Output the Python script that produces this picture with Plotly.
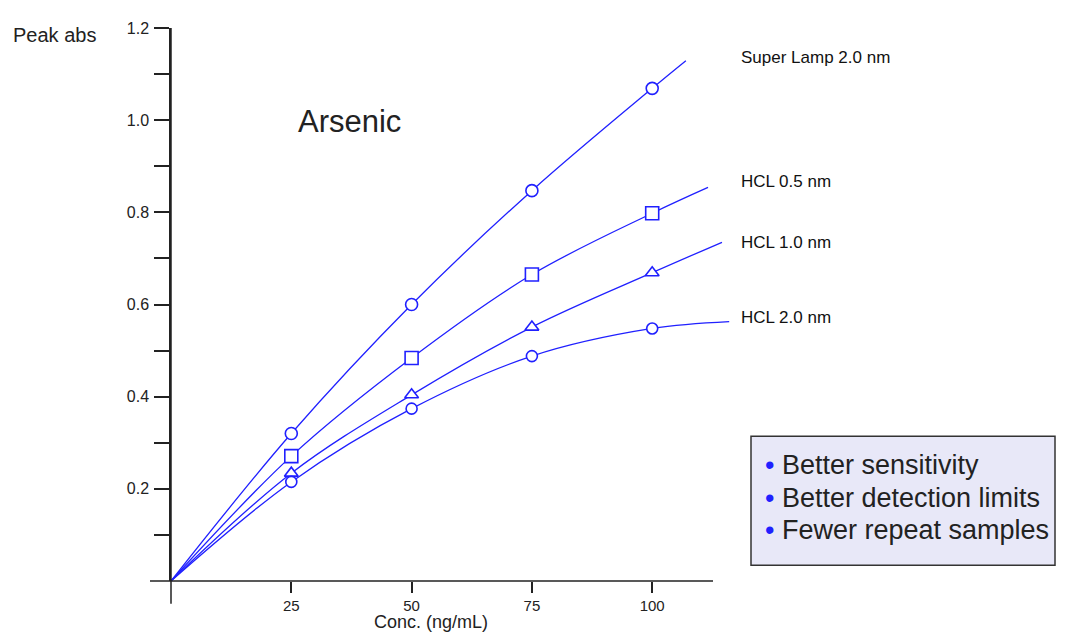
import plotly.graph_objects as go

# ---- data ----
conc = [25, 50, 75, 100]
series_names = ["Super Lamp 2.0 nm", "HCL 0.5 nm", "HCL 1.0 nm", "HCL 2.0 nm"]
super_lamp = [0.320, 0.600, 0.847, 1.069]
hcl_05 = [0.271, 0.484, 0.665, 0.798]
hcl_10 = [0.234, 0.404, 0.551, 0.669]
hcl_20 = [0.215, 0.374, 0.488, 0.548]
# end of each fitted curve (x, y)
curve_end_x = [107.0, 111.6, 114.5, 116.0]
curve_end_y = [1.129, 0.854, 0.735, 0.563]
symbols = ["circle", "square", "triangle-up", "circle"]
marker_sizes = [12, 13, 12, 11]
label_y = [1.137, 0.866, 0.735, 0.572]
bullets = ["Better sensitivity", "Better detection limits", "Fewer repeat samples"]
y_major = [0.2, 0.4, 0.6, 0.8, 1.0, 1.2]
y_minor = [0.1, 0.3, 0.5, 0.7, 0.9, 1.1]

OFF = 8  # page body margin
W, H = 1066 - OFF, 632 - OFF
L, R, T, B = 171 - OFF, 332, 23 - OFF, 51
X_RANGE = [0, 117]
Y_RANGE = [0, 1.2]
pw, ph = W - L - R, H - T - B


def px(x):
    return (x - OFF - L) / pw


def py(y):
    return (H - B - (y - OFF)) / ph


BLUE = "#2020ff"
FONT = "Liberation Sans, Arial, sans-serif"

fig = go.Figure()
all_series = [super_lamp, hcl_05, hcl_10, hcl_20]
for i, vals in enumerate(all_series):
    xs = [0] + conc + [curve_end_x[i]]
    ys = [0] + vals + [curve_end_y[i]]
    fig.add_trace(go.Scatter(x=xs, y=ys, mode="lines",
                             line=dict(color=BLUE, width=1.3, shape="spline", smoothing=1.0),
                             showlegend=False, hoverinfo="skip"))
for i, vals in enumerate(all_series):
    fig.add_trace(go.Scatter(x=conc, y=vals, mode="markers", name=series_names[i],
                             marker=dict(symbol=symbols[i], size=marker_sizes[i], color="white",
                                         line=dict(color=BLUE, width=1.6)),
                             showlegend=False))

shapes = [
    # x axis line extending left of the y axis
    dict(type="line", xref="paper", yref="paper", x0=px(150), x1=px(713), y0=0, y1=0,
         line=dict(color="#222", width=1.5)),
    # y axis extension below x axis
    dict(type="line", xref="paper", yref="paper", x0=0, x1=0, y0=py(604), y1=1,
         line=dict(color="#222", width=1.5)),
    # info box
    dict(type="rect", xref="paper", yref="paper", x0=px(751), x1=px(1055), y0=py(565), y1=py(435),
         fillcolor="#e8e8f8", line=dict(color="#333", width=1.5), layer="below"),
]

ann = []
for i, name in enumerate(series_names):
    ann.append(dict(x=px(739), y=label_y[i], xref="paper", yref="y", text=name, showarrow=False,
                    xanchor="left", yanchor="middle", font=dict(size=17, color="#111", family=FONT)))
ann.append(dict(x=px(296), y=py(117), xref="paper", yref="paper", text="Arsenic", showarrow=False,
                xanchor="left", yanchor="middle", font=dict(size=31, color="#222", family=FONT)))
ann.append(dict(x=px(11), y=py(30), xref="paper", yref="paper", text="Peak abs", showarrow=False,
                xanchor="left", yanchor="middle", font=dict(size=20, color="#222", family=FONT)))
ann.append(dict(x=px(431), y=py(622), xref="paper", yref="paper", text="Conc. (ng/mL)", showarrow=False,
                xanchor="center", yanchor="middle", font=dict(size=18, color="#222", family=FONT)))
for j, t in enumerate(bullets):
    ann.append(dict(x=px(763), y=py(464 + 33 * j), xref="paper", yref="paper",
                    text="<span style='color:#2020ff'>•</span> " + t, showarrow=False,
                    xanchor="left", yanchor="middle", font=dict(size=27, color="#222", family=FONT)))

fig.update_layout(
    width=W, height=H, margin=dict(l=L, r=R, t=T, b=B),
    paper_bgcolor="white", plot_bgcolor="white",
    shapes=shapes, annotations=ann, showlegend=False,
    font=dict(family=FONT, color="#222"),
    xaxis=dict(range=X_RANGE, showgrid=False, zeroline=False, showline=False,
               tickvals=conc, ticktext=[str(c) for c in conc], ticks="outside", ticklen=11,
               tickwidth=1.5, tickcolor="#222", tickfont=dict(size=15, family=FONT, color="#222"),
               ticklabelstandoff=0),
    yaxis=dict(range=Y_RANGE, showgrid=False, zeroline=False, showline=True, linecolor="#222",
               linewidth=1.5, tickvals=y_major, ticktext=[f"{v:.1f}" for v in y_major],
               ticks="outside", ticklen=15, tickwidth=1.5, tickcolor="#222",
               minor=dict(tickvals=y_minor, ticks="outside", ticklen=15, tickwidth=1.5, tickcolor="#222"),
               tickfont=dict(size=16, family=FONT, color="#222"), ticklabelstandoff=2),
)

fig.write_html("out.html")
